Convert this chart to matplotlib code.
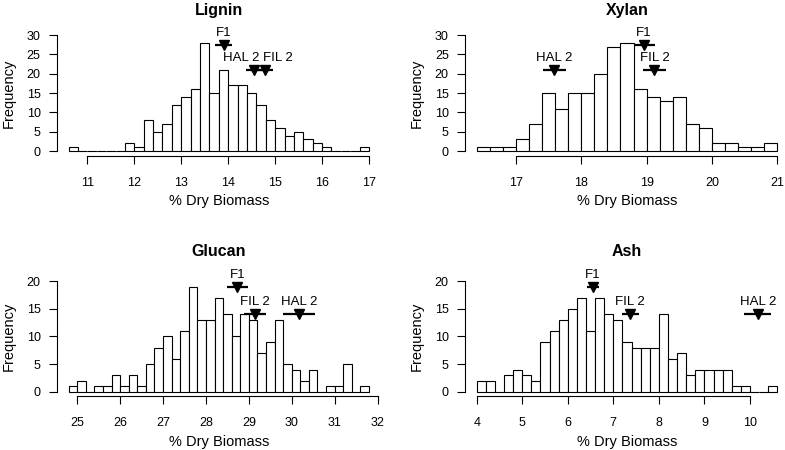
import matplotlib
matplotlib.use("Agg")
import matplotlib.pyplot as plt
import numpy as np

plt.rcParams['font.family'] = ['Liberation Sans', 'DejaVu Sans']

# Data **************************************************************
BIN_W = 0.2

lignin_start = 10.6
lignin_counts = [1, 0, 0, 0, 0, 0, 2, 1, 8, 5, 7, 12, 14, 16, 28, 15, 21, 17, 17,
                 15, 12, 8, 6, 4, 5, 3, 2, 1, 0, 0, 0, 1]
lignin_lab = ['F1', 'HAL 2', 'FIL 2']
lignin_mean = [13.91, 14.55, 14.79]
lignin_lo = [13.72, 14.38, 14.63]
lignin_hi = [14.09, 14.72, 14.95]
lignin_y = [27.5, 21, 21]

xylan_start = 16.4
xylan_counts = [1, 1, 1, 3, 7, 15, 11, 15, 15, 20, 27, 28, 16, 14, 13, 14, 7, 6,
                2, 2, 1, 1, 2]
xylan_lab = ['F1', 'HAL 2', 'FIL 2']
xylan_mean = [18.96, 17.59, 19.12]
xylan_lo = [18.80, 17.42, 18.94]
xylan_hi = [19.13, 17.77, 19.30]
xylan_y = [27.5, 21, 21]

glucan_start = 24.8
glucan_counts = [1, 2, 0, 1, 1, 3, 1, 3, 1, 5, 8, 10, 6, 11, 19, 13, 13, 17, 14,
                 10, 14, 13, 7, 9, 13, 5, 4, 2, 4, 0, 1, 1, 5, 0, 1]
glucan_lab = ['F1', 'FIL 2', 'HAL 2']
glucan_mean = [28.73, 29.14, 30.18]
glucan_lo = [28.48, 28.89, 29.80]
glucan_hi = [28.99, 29.41, 30.55]
glucan_y = [19, 14, 14]

ash_start = 4.0
ash_counts = [2, 2, 0, 3, 4, 3, 2, 9, 11, 13, 15, 17, 11, 17, 14, 13, 9, 8, 8, 8,
              14, 6, 7, 3, 4, 4, 4, 4, 1, 1, 0, 0, 1]
ash_lab = ['F1', 'FIL 2', 'HAL 2']
ash_mean = [6.55, 7.37, 10.18]
ash_lo = [6.42, 7.19, 9.88]
ash_hi = [6.69, 7.57, 10.47]
ash_y = [19, 14, 14]

# Layout ************************************************************
W, H = 785, 450
fig = plt.figure(figsize=(W / 100, H / 100), dpi=100)


def rect(x0, y0, x1, y1):
    # pixel box (top-left origin) -> figure fraction
    return [x0 / W, 1 - y1 / H, (x1 - x0) / W, (y1 - y0) / H]


panels = [
    dict(title='Lignin', start=lignin_start, counts=lignin_counts, lab=lignin_lab,
         mean=lignin_mean, lo=lignin_lo, hi=lignin_hi, y=lignin_y,
         ymax=30, box=rect(56.6, 30.4, 381, 155.7), tpad=11,
         shift={'HAL 2': -9.5, 'FIL 2': 9.0}),
    dict(title='Xylan', start=xylan_start, counts=xylan_counts, lab=xylan_lab,
         mean=xylan_mean, lo=xylan_lo, hi=xylan_hi, y=xylan_y,
         ymax=30, box=rect(464.7, 30.4, 789.3, 155.7), tpad=11, shift={}),
    dict(title='Glucan', start=glucan_start, counts=glucan_counts, lab=glucan_lab,
         mean=glucan_mean, lo=glucan_lo, hi=glucan_hi, y=glucan_y,
         ymax=20, box=rect(56.6, 276.6, 381, 396.3), tpad=14.5, shift={}),
    dict(title='Ash', start=ash_start, counts=ash_counts, lab=ash_lab,
         mean=ash_mean, lo=ash_lo, hi=ash_hi, y=ash_y,
         ymax=20, box=rect(464.7, 276.6, 789.3, 396.3), tpad=14.5, shift={}),
]

for p in panels:
    ax = fig.add_axes(p['box'])
    counts = np.array(p['counts'])
    edges = p['start'] + BIN_W * np.arange(len(counts) + 1)
    ax.bar(edges[:-1], counts, width=BIN_W, align='edge', facecolor='white',
           edgecolor='black', linewidth=0.8)

    # means with error bars
    for lab, m, lo, hi, yy in zip(p['lab'], p['mean'], p['lo'], p['hi'], p['y']):
        ax.plot([lo, hi], [yy, yy], color='black', lw=1.6, solid_capstyle='butt')
        ax.plot([m], [yy], marker='v', color='black', markersize=6.5)
        ax.annotate(lab, (m, yy), xytext=(p['shift'].get(lab, 0), 8.5),
                    textcoords='offset points', ha='center', va='center',
                    fontsize=9.5)

    lo_x, hi_x = edges[0], edges[-1]
    ext = 0.04 * (hi_x - lo_x)
    ax.set_xlim(lo_x - ext, hi_x + ext)
    ax.set_ylim(-0.04 * p['ymax'], 1.04 * p['ymax'])
    xt = np.arange(np.ceil(lo_x - ext), np.floor(hi_x + ext) + 1)
    yt = np.arange(0, p['ymax'] + 1, 5)
    ax.set_xticks(xt)
    ax.set_xticklabels([str(int(v)) for v in xt])
    ax.set_yticks(yt)
    ax.set_yticklabels([str(int(v)) for v in yt])

    for s in ['top', 'right']:
        ax.spines[s].set_visible(False)
    ax.spines['bottom'].set_bounds(xt[0], xt[-1])
    ax.spines['left'].set_bounds(yt[0], yt[-1])
    for s in ['bottom', 'left']:
        ax.spines[s].set_linewidth(0.8)
    ax.tick_params(axis='x', length=6, width=0.8, pad=9, labelsize=9)
    ax.tick_params(axis='y', length=6, width=0.8, pad=5.5, labelsize=9)

    ax.set_title(p['title'], fontsize=11.5, fontweight='bold', pad=p['tpad'])
    ax.set_xlabel('% Dry Biomass', fontsize=10.5, labelpad=4)
    ax.set_ylabel('Frequency', fontsize=10.5, labelpad=8)

fig.savefig('out.png', dpi=100)
